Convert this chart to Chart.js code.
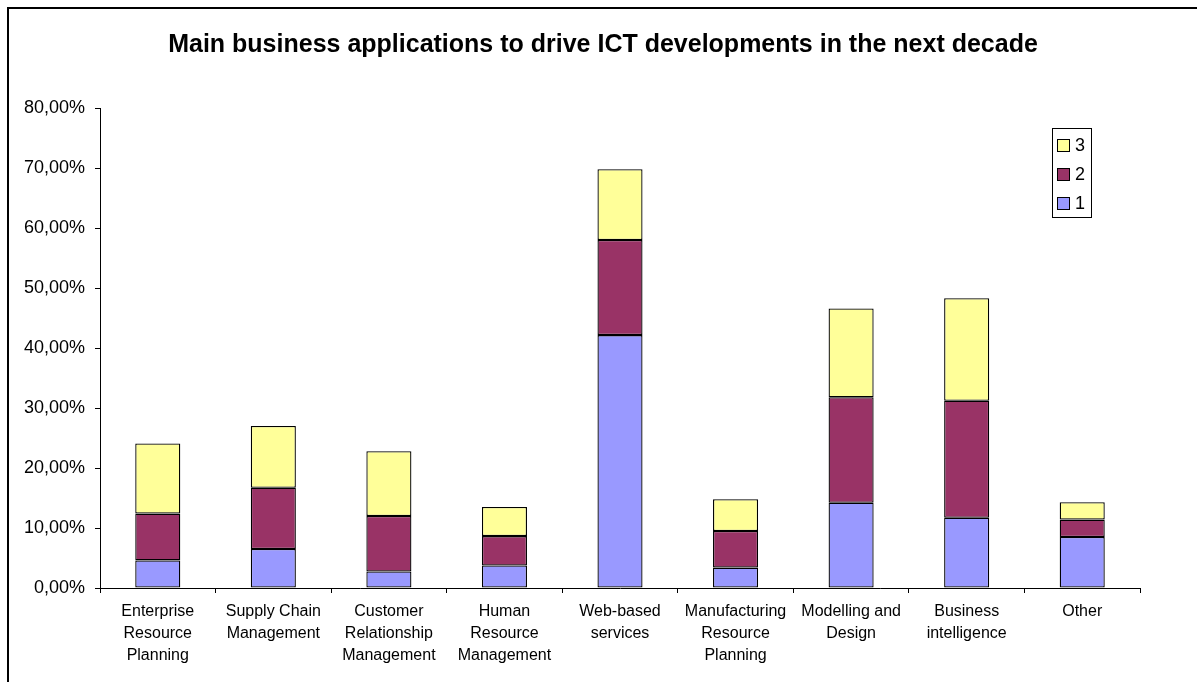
<!DOCTYPE html>
<html>
<head>
<meta charset="utf-8">
<title>ICT developments</title>
<script src="https://cdn.jsdelivr.net/npm/chart.js@4/dist/chart.umd.min.js"></script>
<style>
  html, body { margin: 0; padding: 0; background: #fff; }
  #wrap { width: 1197px; height: 682px; position: relative; }
</style>
</head>
<body>
<div id="wrap"><canvas id="ictChart" width="1197" height="682"></canvas></div>
<script>
// Applications (x axis)
const applications = [
    ['Enterprise', 'Resource', 'Planning'],
    ['Supply Chain', 'Management'],
    ['Customer', 'Relationship', 'Management'],
    ['Human', 'Resource', 'Management'],
    ['Web-based', 'services'],
    ['Manufacturing', 'Resource', 'Planning'],
    ['Modelling and', 'Design'],
    ['Business', 'intelligence'],
    ['Other']
];

// Share of answers per priority rank (percent)
const rank1 = [4.6, 6.5, 2.75, 3.75, 42.15, 3.4, 14.2, 11.7, 8.5];
const rank2 = [7.8, 10.2, 9.25, 4.9, 15.85, 6.1, 17.6, 19.5, 2.9];
const rank3 = [11.7, 10.3, 10.8, 4.85, 11.8, 5.3, 14.8, 17.1, 2.9];

const yTicks = { min: 0, max: 80, step: 10 };

const chartTitle = 'Main business applications to drive ICT developments in the next decade';

const fontFamily = 'Arial, "Liberation Sans", Helvetica, sans-serif';

// Cadre noir autour du graphique + titre centré sur la zone 66..1140
const framePlugin = {
    id: 'frame',
    beforeDraw(chart) {
        const ctx = chart.ctx;
        ctx.save();
        ctx.fillStyle = '#fff';
        ctx.fillRect(0, 0, chart.width, chart.height);
        ctx.strokeStyle = '#000';
        ctx.lineWidth = 2;
        ctx.strokeRect(8, 8, chart.width + 20, chart.height + 20);
        ctx.fillStyle = '#000';
        ctx.font = 'bold 25px ' + fontFamily;
        ctx.textAlign = 'center';
        ctx.textBaseline = 'middle';
        ctx.fillText(chartTitle, (66 + chart.chartArea.right) / 2, 45);
        ctx.restore();
    }
};

// Légende encadrée dans la zone du graphique (ordre inversé : 3, 2, 1)
const boxLegendPlugin = {
    id: 'boxLegend',
    afterDraw(chart) {
        const ctx = chart.ctx;
        const sets = chart.data.datasets.slice().reverse();
        const x = 1052, y = 128, w = 39, rowH = 29;
        const h = sets.length * rowH + 2;
        ctx.save();
        ctx.fillStyle = '#fff';
        ctx.fillRect(x, y, w, h);
        ctx.strokeStyle = '#000';
        ctx.lineWidth = 1;
        ctx.strokeRect(x + 0.5, y + 0.5, w, h);
        ctx.font = '18px ' + fontFamily;
        ctx.textBaseline = 'middle';
        sets.forEach((ds, i) => {
            const cy = y + 17 + i * rowH;
            ctx.fillStyle = ds.backgroundColor;
            ctx.fillRect(x + 5, cy - 6, 13, 13);
            ctx.strokeRect(x + 5.5, cy - 5.5, 12, 12);
            ctx.fillStyle = '#000';
            ctx.fillText(ds.label, x + 23, cy + 1);
        });
        ctx.restore();
    }
};

const ctx = document.getElementById('ictChart').getContext('2d');

const ictChart = new Chart(ctx, {
    type: 'bar',
    data: {
        labels: applications,
        datasets: [
            { label: '1', data: rank1, backgroundColor: '#9999FF' },
            { label: '2', data: rank2, backgroundColor: '#993366' },
            { label: '3', data: rank3, backgroundColor: '#FFFF99' }
        ].map(ds => Object.assign(ds, {
            borderColor: '#000',
            borderWidth: 1.3,
            borderSkipped: false,
            barPercentage: 0.39,
            categoryPercentage: 1
        }))
    },
    options: {
        responsive: false,
        animation: false,
        layout: { padding: { top: 108, right: 57, bottom: 0, left: 0 } },
        plugins: {
            legend: { display: false },
            tooltip: { enabled: false },
            title: { display: false }
        },
        scales: {
            x: {
                stacked: true,
                grid: {
                    display: true,
                    drawOnChartArea: false,
                    color: '#000',
                    tickLength: 5,
                    offset: true
                },
                border: { color: '#000', width: 1 },
                ticks: {
                    color: '#000',
                    autoSkip: false,
                    maxRotation: 0,
                    minRotation: 0,
                    padding: 8,
                    font: { family: fontFamily, size: 16, lineHeight: 1.375 }
                },
                afterFit(scale) { scale.height = 94; }
            },
            y: {
                stacked: true,
                min: yTicks.min,
                max: yTicks.max,
                grid: {
                    display: true,
                    drawOnChartArea: false,
                    color: '#000',
                    tickLength: 5
                },
                border: { color: '#000', width: 1 },
                ticks: {
                    stepSize: yTicks.step,
                    color: '#000',
                    padding: 10,
                    font: { family: fontFamily, size: 18 },
                    callback: v => v.toFixed(2).replace('.', ',') + '%'
                },
                afterFit(scale) { scale.width = 100; }
            }
        }
    },
    plugins: [framePlugin, boxLegendPlugin]
});
</script>
</body>
</html>
